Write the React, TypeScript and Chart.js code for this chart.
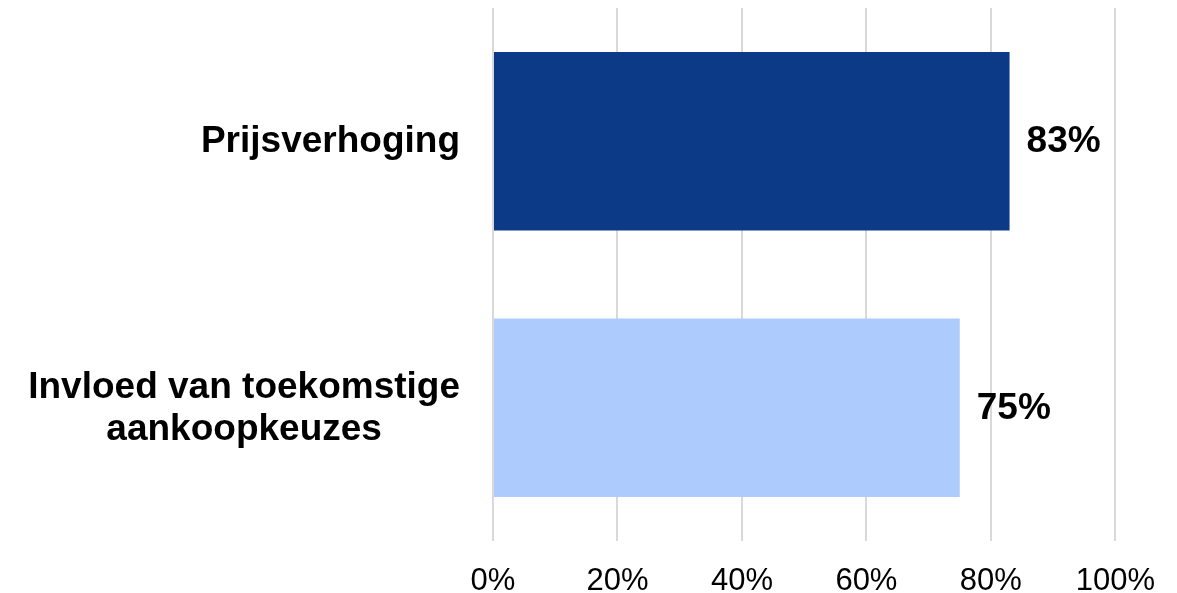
import React, { useEffect, useRef } from "react";
import { Chart, registerables } from "chart.js";

Chart.register(...registerables);

const categories: string[][] = [["Prijsverhoging"], ["Invloed van toekomstige", "aankoopkeuzes"]];
const values: number[] = [83, 75];
const barColors: string[] = ["#0c3a87", "#adcbfc"];
const tickValues: number[] = [0, 20, 40, 60, 80, 100];

const FONT = "'Liberation Sans', Arial, sans-serif";

const labelPlugin = {
  id: "customLabels",
  afterDatasetsDraw(chart: any) {
    const ctx = chart.ctx;
    const meta = chart.getDatasetMeta(0);
    const yScale = chart.scales.y;
    const left = chart.chartArea.left;
    ctx.save();
    ctx.fillStyle = "#000";
    ctx.font = `bold 37px ${FONT}`;
    ctx.textAlign = "left";
    ctx.textBaseline = "middle";
    meta.data.forEach((bar: any, i: number) => {
      ctx.fillText(values[i] + "%", bar.x + 17, bar.y + 1);
    });
    const lineH = 42;
    categories.forEach((lines, i) => {
      const cy = yScale.getPixelForValue(i);
      const widths = lines.map((l) => ctx.measureText(l).width);
      const w = Math.max(...widths);
      const right = left - 33;
      const cx = right - w / 2;
      ctx.textAlign = "center";
      const startY = cy + 1 - ((lines.length - 1) * lineH) / 2;
      lines.forEach((l, j) => {
        ctx.fillText(l, cx, startY + j * lineH);
      });
    });
    ctx.restore();
  },
};

export default function App() {
  const ref = useRef<HTMLCanvasElement>(null);
  useEffect(() => {
    if (!ref.current) return;
    const chart = new Chart(ref.current, {
      type: "bar",
      data: {
        labels: categories.map((c) => c.join(" ")),
        datasets: [
          {
            data: values,
            backgroundColor: barColors,
            borderWidth: 0,
            categoryPercentage: 1,
            barPercentage: 0.67,
          },
        ],
      },
      options: {
        indexAxis: "y",
        animation: false,
        responsive: true,
        maintainAspectRatio: false,
        layout: { padding: { left: 493, right: 61, top: 8, bottom: 0 } },
        plugins: { legend: { display: false }, tooltip: { enabled: false } },
        scales: {
          y: { display: false },
          x: {
            min: 0,
            max: 100,
            afterBuildTicks: (scale: any) => {
              scale.ticks = tickValues.map((v) => ({ value: v }));
            },
            afterFit: (scale: any) => {
              scale.height = 52;
            },
            border: { display: false },
            grid: { color: "#d9d9d9", lineWidth: 2, drawTicks: false },
            ticks: {
              padding: 22,
              color: "#000",
              font: { family: FONT, size: 31 },
              callback: (v: any) => v + "%",
            },
          },
        },
      },
      plugins: [labelPlugin],
    });
    return () => chart.destroy();
  }, []);
  return (
    <div style={{ position: "fixed", left: 0, top: 0, width: 1177, height: 593, background: "#fff" }}>
      <canvas ref={ref} />
    </div>
  );
}
